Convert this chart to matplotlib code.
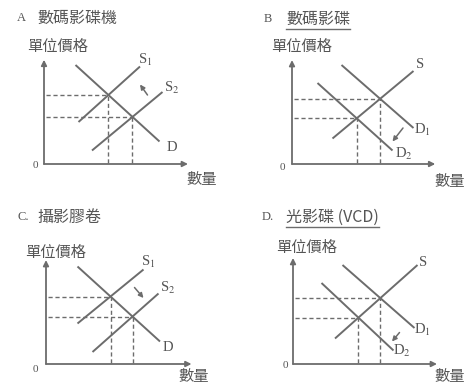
import matplotlib
matplotlib.use("Agg")
import matplotlib.pyplot as plt
from matplotlib.lines import Line2D

plt.rcParams["font.family"] = ["Noto Sans CJK TC", "DejaVu Sans"]
plt.rcParams["mathtext.fontset"] = "stix"

W, H = 468, 385
UNIT = 15.0  # pixels per data unit, same on every panel
INK = "#6c6c6c"
TEXT = "#555555"

# ---- chart content -------------------------------------------------------
LETTERS = ["A", "B", "C.", "D."]
PRODUCTS = ["數碼影碟機", "數碼影碟", "攝影膠卷", "光影碟 (VCD)"]
UNDERLINED = [False, True, False, True]
Y_LABEL = "單位價格"
X_LABEL = "數量"
ZERO = "0"

# curves: name -> ((quantity0, price0), (quantity1, price1))
CURVES_A = {"S1": ((2.3, 2.8), (6.4, 6.5)),
            "S2": ((3.2, 0.9), (7.9, 4.8)),
            "D": ((2.1, 6.6), (7.7, 1.5))}
CURVES_B = {"S": ((2.7, 1.7), (8.1, 6.2)),
            "D1": ((3.3, 6.6), (8.1, 2.4)),
            "D2": ((1.7, 5.4), (6.7, 0.9))}
CURVES_C = {"S1": ((2.1, 2.7), (6.5, 6.3)),
            "S2": ((3.1, 0.8), (7.5, 4.7)),
            "D": ((2.1, 6.5), (7.6, 1.5))}
CURVES_D = {"S": ((2.8, 1.7), (8.3, 6.6)),
            "D1": ((3.3, 6.6), (8.1, 2.4)),
            "D2": ((1.9, 5.4), (6.7, 0.9))}

# equilibria marked with dashed guides
EQ_A = [("S1", "D"), ("S2", "D")]
EQ_B = [("S", "D1"), ("S", "D2")]
EQ_C = [("S1", "D"), ("S2", "D")]
EQ_D = [("S", "D1"), ("S", "D2")]

# shift arrows: (from, to)
SHIFT_A = ((6.9, 4.6), (6.4, 5.3))
SHIFT_B = ((7.4, 2.4), (6.7, 1.5))
SHIFT_C = ((5.9, 5.1), (6.5, 4.4))
SHIFT_D = ((7.1, 2.1), (6.6, 1.5))

CURVE_TEXT = {"S": "S", "D": "D", "S1": r"S$_1$", "S2": r"S$_2$",
              "D1": r"D$_1$", "D2": r"D$_2$"}

# ---- layout (pixels) -----------------------------------------------------
PANELS = [
    dict(curves=CURVES_A, eq=EQ_A, shift=SHIFT_A, origin=(44, 164), xlen=9.6, ylen=6.95,
         title=(17, 18), name_x=37, ylab=(27, 46), xlab=(186, 180), zero=(35, 165),
         labels={"S1": (6.75, 6.95), "S2": (8.5, 5.1), "D": (8.5, 1.1)}),
    dict(curves=CURVES_B, eq=EQ_B, shift=SHIFT_B, origin=(292, 164), xlen=9.55, ylen=6.93,
         title=(264, 19), name_x=286, ylab=(271, 46), xlab=(434, 181), zero=(282, 168),
         labels={"S": (8.55, 6.6), "D1": (8.7, 2.25), "D2": (7.45, 0.65)}),
    dict(curves=CURVES_C, eq=EQ_C, shift=SHIFT_C, origin=(46, 364), xlen=9.7, ylen=6.93,
         title=(17, 217), name_x=37, ylab=(25, 252), xlab=(178, 377), zero=(35, 370),
         labels={"S1": (6.8, 6.8), "S2": (8.1, 5.1), "D": (8.1, 1.1)}),
    dict(curves=CURVES_D, eq=EQ_D, shift=SHIFT_D, origin=(293, 364), xlen=9.6, ylen=7.07,
         title=(262, 217), name_x=286, ylab=(276, 247), xlab=(434, 377), zero=(285, 366),
         labels={"S": (8.65, 6.8), "D1": (8.6, 2.25), "D2": (7.25, 0.9)}),
]


def intersect(a, b):
    (x1, y1), (x2, y2) = a
    (x3, y3), (x4, y4) = b
    m1 = (y2 - y1) / (x2 - x1)
    m2 = (y4 - y3) / (x4 - x3)
    x = (y3 - y1 + m1 * x1 - m2 * x3) / (m1 - m2)
    return x, y1 + m1 * (x - x1)


def fx(px):
    return px / W


def fy(py):
    return 1 - py / H


fig = plt.figure(figsize=(W / 100, H / 100), dpi=100)
fig.patch.set_facecolor("white")

underline_names = []
for i, p in enumerate(PANELS):
    ox, oy = p["origin"]
    ax = fig.add_axes([fx(ox), fy(oy), p["xlen"] * UNIT / W, p["ylen"] * UNIT / H])
    ax.set_xlim(0, p["xlen"])
    ax.set_ylim(0, p["ylen"])
    ax.axis("off")

    # axes with arrows
    arrow = dict(arrowstyle="-|>", color=INK, lw=1.3, mutation_scale=8,
                 shrinkA=0, shrinkB=0)
    ax.annotate("", xy=(p["xlen"], 0), xytext=(0, 0), arrowprops=arrow)
    ax.annotate("", xy=(0, p["ylen"]), xytext=(0, 0), arrowprops=arrow)

    for name, ((q0, p0), (q1, p1)) in p["curves"].items():
        ax.plot([q0, q1], [p0, p1], color=INK, lw=1.4, solid_capstyle="butt")
        lx, ly = p["labels"][name]
        ax.text(lx, ly, CURVE_TEXT[name], fontsize=10.5, color=TEXT,
                family="Liberation Serif", ha="center", va="center")

    for a, b in p["eq"]:
        q, pr = intersect(p["curves"][a], p["curves"][b])
        ax.plot([0.1, q], [pr, pr], color=INK, lw=1.0, dashes=(3, 2))
        ax.plot([q, q], [0.05, pr], color=INK, lw=1.0, dashes=(3, 2))

    (sx, sy), (ex, ey) = p["shift"]
    ax.annotate("", xy=(ex, ey), xytext=(sx, sy),
                arrowprops=dict(arrowstyle="-|>", color=INK, lw=1.1,
                                mutation_scale=7, shrinkA=0, shrinkB=0))

    tx, ty = p["title"]
    fig.text(fx(tx), fy(ty), LETTERS[i], fontsize=9, color=TEXT,
             family="Liberation Serif", va="center")
    name = fig.text(fx(p["name_x"]), fy(ty), PRODUCTS[i], fontsize=11.5,
                    color=TEXT, va="center")
    if UNDERLINED[i]:
        underline_names.append(name)
    yx, yy = p["ylab"]
    fig.text(fx(yx), fy(yy), Y_LABEL, fontsize=11, color=TEXT, va="center")
    xx, xy = p["xlab"]
    fig.text(fx(xx), fy(xy), X_LABEL, fontsize=11, color=TEXT, va="center")
    zx, zy = p["zero"]
    fig.text(fx(zx), fy(zy), ZERO, fontsize=8, color=TEXT,
             family="Liberation Serif", ha="center", va="center")

fig.canvas.draw()
renderer = fig.canvas.get_renderer()
for t in underline_names:
    bb = t.get_window_extent(renderer)
    y = (bb.y0 - 1) / H
    fig.add_artist(Line2D([bb.x0 / W, bb.x1 / W], [y, y], color=INK, lw=1.0))

fig.savefig("out.png", dpi=100, facecolor="white")
